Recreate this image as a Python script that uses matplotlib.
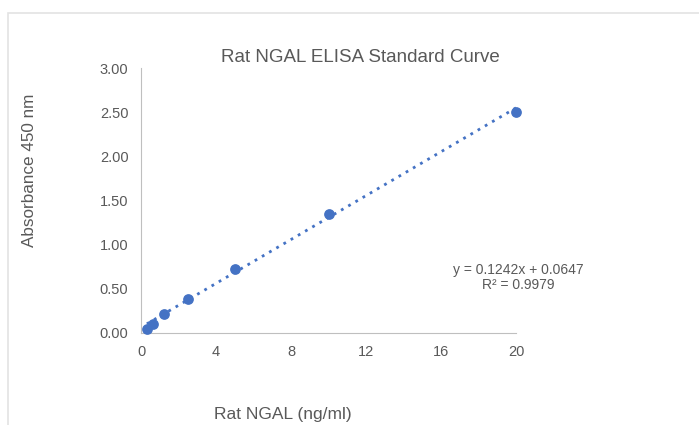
import numpy as np
import matplotlib.pyplot as plt
from matplotlib.patches import Rectangle

# standard concentrations (ng/ml) and absorbance readings
conc = [0.3125, 0.625, 1.25, 2.5, 5, 10, 20]
absorbance = [0.05, 0.10, 0.21, 0.38, 0.72, 1.35, 2.50]
x_ticks = [0, 4, 8, 12, 16, 20]
y_ticks = [0.0, 0.5, 1.0, 1.5, 2.0, 2.5, 3.0]
slope, intercept = 0.1242, 0.0647

TEXT = "#595959"
BLUE = "#4472C4"
plt.rcParams["font.family"] = ["Liberation Sans", "DejaVu Sans"]

fig = plt.figure(figsize=(6.99, 4.25), dpi=100)
fig.patches.append(Rectangle((8 / 699, -0.1), 1.2, 1 - 13 / 425 + 0.1, transform=fig.transFigure,
                             fill=False, edgecolor="#e3e3e3", linewidth=1.2))
ax = fig.add_axes([141 / 699, 92 / 425, 375 / 699, 265 / 425])

ax.scatter(conc, absorbance, s=45, color=BLUE, zorder=3, clip_on=False)
xs = np.array([conc[0], conc[-1]])
ax.plot(xs, slope * xs + intercept, linestyle=(0, (1, 2)), color=BLUE, linewidth=2)

ax.set_xlim(0, 20)
ax.set_ylim(0, 3)
ax.set_xticks(x_ticks)
ax.set_yticks(y_ticks)
ax.set_yticklabels([f"{v:.2f}" for v in y_ticks])
ax.tick_params(length=0, labelsize=10.5, labelcolor=TEXT, pad=9)
for side in ["top", "right"]:
    ax.spines[side].set_visible(False)
for side in ["left", "bottom"]:
    ax.spines[side].set_color("#bfbfbf")

fig.text(360 / 699, 1 - 57 / 425, "Rat NGAL ELISA Standard Curve", ha="center", va="center",
         fontsize=13.5, color=TEXT)
fig.text(30 / 699, 1 - 170 / 425, "Absorbance 450 nm", ha="center", va="center", rotation=90,
         fontsize=12.3, color=TEXT)
fig.text(283 / 699, 1 - 415 / 425, "Rat NGAL (ng/ml)", ha="center", va="center",
         fontsize=12.5, color=TEXT)
fig.text(518 / 699, 1 - 270 / 425, f"y = {slope}x + {intercept}", ha="center", va="center",
         fontsize=10, color=TEXT)
fig.text(518 / 699, 1 - 285 / 425, "R² = 0.9979", ha="center", va="center",
         fontsize=10, color=TEXT)

fig.savefig("out.png", dpi=100)
